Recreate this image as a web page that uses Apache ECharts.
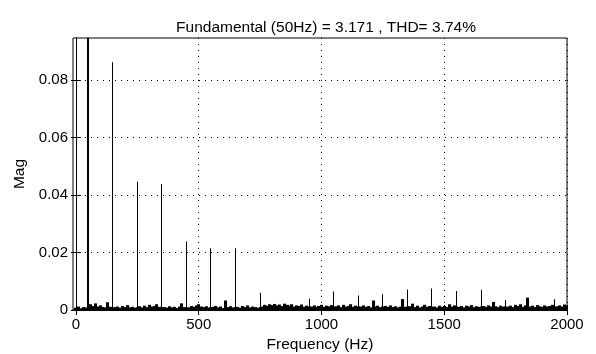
<!DOCTYPE html>
<html>
<head>
<meta charset="utf-8">
<script src="https://cdn.jsdelivr.net/npm/echarts@6/dist/echarts.min.js"></script>
<style>html,body{margin:0;padding:0;background:#fff;}#c{width:596px;height:354px;}</style>
</head>
<body>
<div id="c"></div>
<script>
// Title / labels
const titleText = 'Fundamental (50Hz) = 3.171 , THD= 3.74%';
const xName = 'Frequency (Hz)';
const yName = 'Mag';

// Tick values
const xTicks = [0, 500, 1000, 1500, 2000];
const yTicks = [0, 0.02, 0.04, 0.06, 0.08];

// Odd harmonics (Hz) and magnitudes
const harmonicFreqs = [50, 150, 250, 350, 450, 550, 650, 750, 950, 1050, 1150, 1250, 1350, 1450, 1550, 1650, 1750, 1950];
const harmonicMags  = [3.171, 0.0862, 0.0446, 0.0438, 0.0238, 0.0215, 0.0215, 0.0060, 0.0040, 0.0064, 0.0050, 0.0055, 0.0071, 0.0075, 0.0066, 0.0070, 0.0035, 0.0037];

// Noise floor, 10 Hz bins starting at 0 Hz
const noiseStep = 10;
const noiseMags = [
  0.0008, 0.0012, 0.0006, 0.0010, 0.0009, 0.0010, 0.0020, 0.0014, 0.0023, 0.0012,
  0.0016, 0.0010, 0.0009, 0.0027, 0.0011, 0.0010, 0.0010, 0.0012, 0.0008, 0.0014,
  0.0010, 0.0017, 0.0009, 0.0011, 0.0008, 0.0010, 0.0013, 0.0009, 0.0015, 0.0010,
  0.0018, 0.0012, 0.0014, 0.0020, 0.0011, 0.0010, 0.0010, 0.0008, 0.0013, 0.0009,
  0.0011, 0.0007, 0.0012, 0.0023, 0.0010, 0.0010, 0.0009, 0.0014, 0.0011, 0.0016,
  0.0020, 0.0012, 0.0010, 0.0013, 0.0008, 0.0010, 0.0011, 0.0014, 0.0009, 0.0012,
  0.0007, 0.0033, 0.0010, 0.0013, 0.0009, 0.0010, 0.0011, 0.0008, 0.0014, 0.0010,
  0.0016, 0.0009, 0.0012, 0.0010, 0.0008, 0.0010, 0.0012, 0.0018, 0.0015, 0.0020,
  0.0017, 0.0021, 0.0016, 0.0019, 0.0014, 0.0022, 0.0018, 0.0015, 0.0020, 0.0012,
  0.0016, 0.0014, 0.0019, 0.0011, 0.0015, 0.0012, 0.0012, 0.0016, 0.0010, 0.0014,
  0.0018, 0.0011, 0.0015, 0.0013, 0.0017, 0.0012, 0.0013, 0.0016, 0.0010, 0.0018,
  0.0012, 0.0014, 0.0020, 0.0011, 0.0015, 0.0012, 0.0012, 0.0016, 0.0011, 0.0014,
  0.0009, 0.0033, 0.0012, 0.0015, 0.0010, 0.0012, 0.0014, 0.0011, 0.0016, 0.0010,
  0.0013, 0.0009, 0.0012, 0.0038, 0.0011, 0.0012, 0.0013, 0.0022, 0.0010, 0.0015,
  0.0009, 0.0012, 0.0018, 0.0011, 0.0014, 0.0012, 0.0012, 0.0009, 0.0015, 0.0011,
  0.0014, 0.0010, 0.0020, 0.0012, 0.0016, 0.0012, 0.0011, 0.0014, 0.0009, 0.0015,
  0.0012, 0.0017, 0.0010, 0.0013, 0.0011, 0.0012, 0.0014, 0.0011, 0.0016, 0.0012,
  0.0028, 0.0013, 0.0010, 0.0015, 0.0012, 0.0012, 0.0012, 0.0015, 0.0010, 0.0018,
  0.0014, 0.0020, 0.0011, 0.0016, 0.0043, 0.0012, 0.0015, 0.0010, 0.0017, 0.0013,
  0.0011, 0.0016, 0.0012, 0.0014, 0.0018, 0.0012, 0.0013, 0.0016, 0.0012, 0.0019,
  0.0015
];

const xMin = -12, xMax = 2000;
const yMin = 0, yMax = 0.0946;

const noiseData = noiseMags.map((v, i) => [i * noiseStep, v]);
const harmonicData = harmonicFreqs.map((f, i) => [f, harmonicMags[i]]);

const FONT = 'Liberation Sans';

function stemRenderer(widthFn) {
  return function (params, api) {
    const x = api.value(0), y = api.value(1);
    const p0 = api.coord([x, 0]);
    const p1 = api.coord([x, y]);
    const w = widthFn(params, api);
    const left = Math.round(p0[0] - w / 2);
    return {
      type: 'rect',
      shape: { x: left, y: p1[1], width: w, height: p0[1] - p1[1] },
      style: { fill: '#000' }
    };
  };
}

const chart = echarts.init(document.getElementById('c'), null, { renderer: 'canvas' });
const axisLineStyle = { show: true, lineStyle: { color: '#000', width: 1 } };
const gridLine = { show: true, lineStyle: { color: '#000', type: [1, 5], width: 1 } };

chart.setOption({
  animation: false,
  backgroundColor: '#fff',
  textStyle: { fontFamily: FONT },
  title: {
    text: titleText,
    left: 321, top: 15, textAlign: 'center',
    textStyle: { fontFamily: FONT, fontSize: 15.5, fontWeight: 'normal', color: '#000' }
  },
  grid: {
    left: 73, right: 29, top: 38, bottom: 44,
    outerBoundsMode: 'none', containLabel: false,
    show: true, borderColor: '#000', borderWidth: 1, backgroundColor: '#fff'
  },
  xAxis: [
    {
      type: 'value', min: xMin, max: xMax, position: 'bottom',
      name: xName, nameLocation: 'middle', nameGap: 27,
      nameTextStyle: { fontFamily: FONT, fontSize: 15.5, color: '#000' },
      axisLine: axisLineStyle,
      axisTick: { show: true, inside: true, length: 5, lineStyle: { color: '#000' }, customValues: xTicks },
      axisLabel: { show: true, color: '#000', fontFamily: FONT, fontSize: 15, margin: 7, customValues: xTicks, formatter: v => String(v) },
      splitLine: gridLine
    },
    {
      type: 'value', min: xMin, max: xMax, position: 'top',
      axisLine: axisLineStyle,
      axisTick: { show: true, inside: true, length: 5, lineStyle: { color: '#000' }, customValues: xTicks },
      axisLabel: { show: false, customValues: xTicks },
      splitLine: { show: false }
    }
  ],
  yAxis: [
    {
      type: 'value', min: yMin, max: yMax, position: 'left',
      name: yName, nameLocation: 'middle', nameGap: 36, nameRotate: 90,
      nameTextStyle: { fontFamily: FONT, fontSize: 15.5, color: '#000' },
      axisLine: axisLineStyle,
      axisTick: { show: true, inside: true, length: 5, lineStyle: { color: '#000' }, customValues: yTicks },
      axisLabel: { show: true, color: '#000', fontFamily: FONT, fontSize: 15, margin: 5, customValues: yTicks, formatter: v => (v === 0 ? '0' : v.toFixed(2)) },
      splitLine: gridLine
    },
    {
      type: 'value', min: yMin, max: yMax, position: 'right',
      axisLine: axisLineStyle,
      axisTick: { show: true, inside: true, length: 5, lineStyle: { color: '#000' }, customValues: yTicks },
      axisLabel: { show: false, customValues: yTicks },
      splitLine: { show: false }
    }
  ],
  series: [
    {
      type: 'custom', xAxisIndex: 0, yAxisIndex: 0, clip: true, z: 3,
      renderItem: stemRenderer((params, api) => Math.max(1, api.size([noiseStep, 0])[0] + 0.6)),
      data: noiseData
    },
    {
      type: 'custom', xAxisIndex: 0, yAxisIndex: 0, clip: true, z: 4,
      renderItem: stemRenderer((params) => (params.dataIndex === 0 ? 2 : 1)),
      data: harmonicData
    }
  ]
});
</script>
</body>
</html>
